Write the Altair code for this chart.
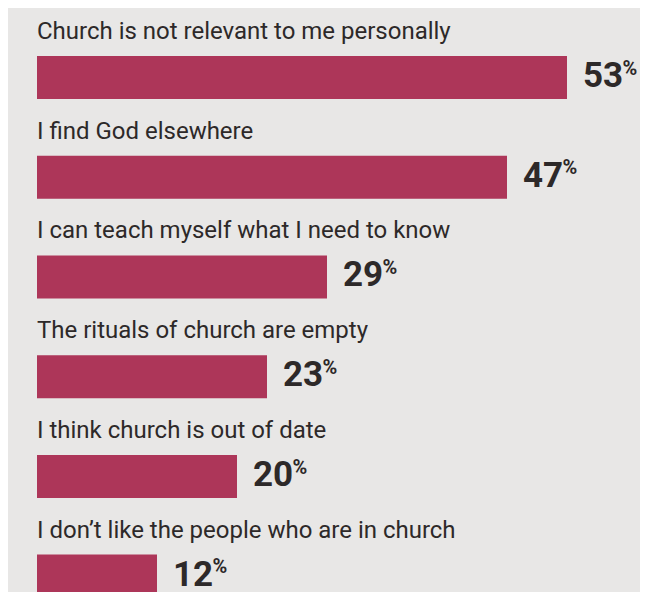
import altair as alt
import pandas as pd

categories = [
    "Church is not relevant to me personally",
    "I find God elsewhere",
    "I can teach myself what I need to know",
    "The rituals of church are empty",
    "I think church is out of date",
    "I don\u2019t like the people who are in church",
]
values = [53, 47, 29, 23, 20, 12]

df = pd.DataFrame({"reason": categories, "pct": values})
df["num"] = df["pct"].astype(str)
df["sym"] = "%"

BG = "#e8e7e6"
BAR = "#ad3659"
TXT = "#2d2929"

y_enc = alt.Y(
    "reason:N",
    sort=categories,
    axis=None,
    scale=alt.Scale(paddingInner=0.5688, paddingOuter=0.4813),
)
x_enc = alt.X("pct:Q", axis=None, scale=alt.Scale(domain=[0, 60.3], nice=False))

bars = alt.Chart(df).mark_bar(color=BAR, cornerRadius=0).encode(x=x_enc, y=y_enc)

labels = alt.Chart(df).mark_text(
    align="left", baseline="alphabetic", dy=-38.5,
    font="Roboto", fontSize=24, fontWeight=400, color=TXT,
).encode(x=alt.value(0), y=y_enc, text="reason:N")

nums = alt.Chart(df).mark_text(
    align="left", baseline="alphabetic", dx=16, dy=9.5,
    font="Roboto", fontSize=35, fontWeight="bold", color=TXT,
).encode(x=x_enc, y=y_enc, text="num:N")

pcts = alt.Chart(df).mark_text(
    align="left", baseline="alphabetic", dx=55.5, dy=-2.8,
    font="Roboto", fontSize=20, fontWeight="bold", color=TXT,
).encode(x=x_enc, y=y_enc, text="sym:N")

chart = (
    alt.layer(bars, labels, nums, pcts)
    .properties(
        width=603,
        height=637.6,
        background=BG,
        padding={"left": 29, "top": 0, "right": 0, "bottom": 0},
        autosize=alt.AutoSizeParams(type="none"),
    )
    .configure_view(stroke=None)
)

chart.save("out.html", embed_options={"renderer": "svg", "actions": False})
